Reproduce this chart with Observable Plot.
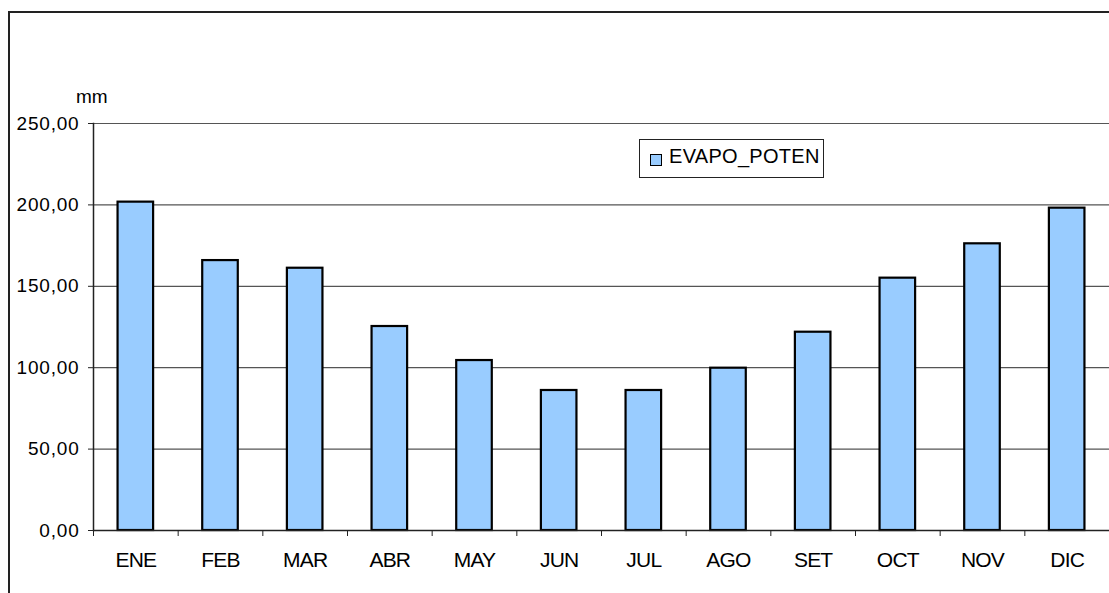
<!DOCTYPE html>
<html>
<head>
<meta charset="utf-8">
<script src="https://cdn.jsdelivr.net/npm/d3@7"></script>
<script src="https://cdn.jsdelivr.net/npm/@observablehq/plot@0.6"></script>
<style>
  html, body { margin: 0; padding: 0; background: white; overflow: hidden; }
  #wrap { position: relative; width: 1109px; height: 593px; font-family: "Liberation Sans", Arial, sans-serif; }
  #chart { position: absolute; left: 0; top: 0; }
  #chart g[aria-label="y-axis tick label"] text { letter-spacing: 0.8px; font-size: 19px !important; }
  #chart g[aria-label="x-axis tick label"] text { letter-spacing: -0.8px; font-size: 21px !important; }
  #frame { position: absolute; left: 8px; top: 11px; width: 1200px; height: 700px;
           border-left: 2px solid #222; border-top: 2px solid #222; pointer-events: none; }
  #unit { position: absolute; left: 76px; top: 86px; font-size: 19px; color: #000; }
  #legend { position: absolute; left: 639px; top: 139px; width: 185px; height: 39px;
            border: 1px solid #222; background: white; box-sizing: border-box; }
  #legend .sw { position: absolute; left: 10px; top: 14px; width: 10px; height: 10px;
                background: #99ccff; border: 1px solid #000; }
  #legend .lb { position: absolute; left: 29px; top: 5px; font-size: 20px; color: #000; white-space: nowrap; letter-spacing: 0.3px; }
</style>
</head>
<body>
<div id="wrap">
  <div id="chart"></div>
  <div id="frame"></div>
  <div id="unit"></div>
  <div id="legend"><div class="sw"></div><div class="lb"></div></div>
</div>
<script>
const months = ["ENE","FEB","MAR","ABR","MAY","JUN","JUL","AGO","SET","OCT","NOV","DIC"];
const evapoPoten = [201.7, 165.8, 161.1, 125.3, 104.4, 86.0, 86.0, 99.7, 121.8, 155.0, 176.1, 198.0];
const yTicks = [0, 50, 100, 150, 200, 250];
const seriesName = "EVAPO_POTEN";
const unitLabel = "mm";

const data = months.map((m, i) => ({month: m, value: evapoPoten[i]}));

const W = 1109, H = 593, mL = 93, mR = 0, mT = 123, mB = 63;
const step = (W - mL - mR) / months.length;

const chart = Plot.plot({
  width: W, height: H,
  marginLeft: mL, marginRight: mR, marginTop: mT, marginBottom: mB,
  style: {background: "transparent", fontFamily: "'Liberation Sans', Arial, sans-serif", color: "#000"},
  x: {domain: months, paddingInner: 0.58, paddingOuter: 0.29, round: false, label: null},
  y: {domain: [0, 250], label: null},
  marks: [
    Plot.ruleY(yTicks.filter(t => t > 0), {stroke: "#555", strokeWidth: 1.2}),
    Plot.barY(data, {x: "month", y: "value", fill: "#99ccff", stroke: "#000", strokeWidth: 2.2}),
    Plot.ruleY([0], {stroke: "#222", strokeWidth: 1.5}),
    Plot.frame({anchor: "left", stroke: "#222", strokeWidth: 1.5}),
    Plot.axisY({ticks: yTicks, tickSize: 5, tickPadding: 9, fontSize: 19,
                tickFormat: d => d.toFixed(2).replace(".", ","), label: null, stroke: "#222"}),
    Plot.axisX({tickSize: 0, tickPadding: 22, fontSize: 21, label: null}),
    Plot.axisX({tickSize: 6, tickFormat: () => "", dx: -step / 2, label: null, stroke: "#222"})
  ]
});
document.getElementById("chart").appendChild(chart);
document.getElementById("unit").textContent = unitLabel;
document.querySelector("#legend .lb").textContent = seriesName;
</script>
</body>
</html>
